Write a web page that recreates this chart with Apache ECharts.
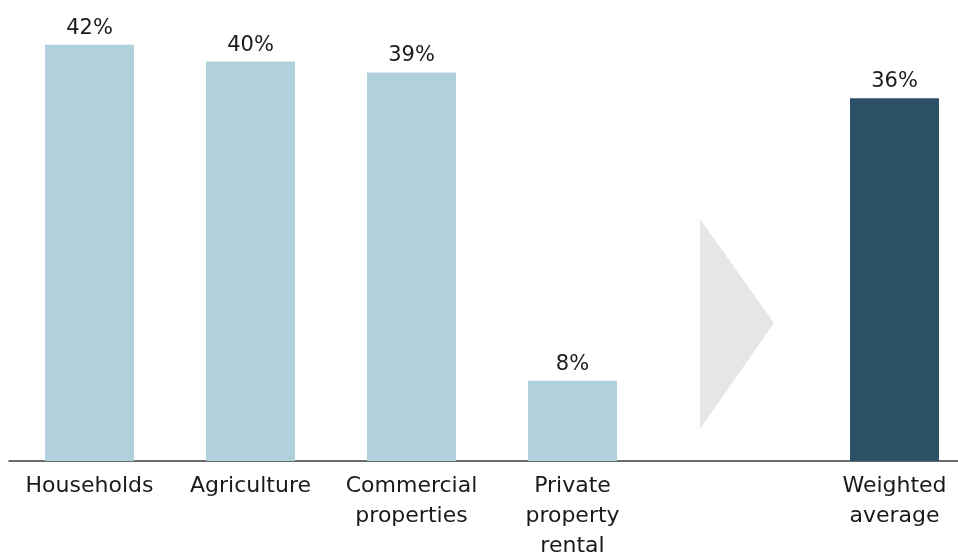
<!DOCTYPE html>
<html>
<head>
<meta charset="utf-8">
<script src="https://cdn.jsdelivr.net/npm/echarts@6/dist/echarts.min.js"></script>
<style>
  html, body { margin: 0; padding: 0; background: #fff; }
  #chart { width: 958px; height: 553px; }
</style>
</head>
<body>
<div id="chart"></div>
<script>
const categories = ['Households', 'Agriculture', 'Commercial\nproperties', 'Private\nproperty\nrental', '', 'Weighted\naverage']
const values = [42, 40.3, 39.2, 8.1, null, 36.6]
const valueLabels = ['42%', '40%', '39%', '8%', '', '36%']
const isAverage = [false, false, false, false, false, true]

const lightColor = '#b0d0db'
const darkColor = '#2c5066'
const font = 'DejaVu Sans'

const el = document.getElementById('chart')
const chart = echarts.init(el)

const option = {
    animation: false,
    grid: {
        left: 9,
        width: 966,
        top: 15,
        bottom: 92,
        containLabel: false,
        outerBoundsMode: 'none'
    },
    xAxis: {
        type: 'category',
        data: categories,
        axisLine: { lineStyle: { color: '#3a3a3a', width: 1.5 } },
        axisTick: { show: false },
        axisLabel: {
            interval: 0,
            margin: 10,
            color: '#1a1a1a',
            fontFamily: font,
            fontSize: 22,
            lineHeight: 30
        }
    },
    yAxis: {
        type: 'value',
        min: 0,
        max: 45,
        show: false,
        splitLine: { show: false }
    },
    series: [
        {
            type: 'bar',
            barWidth: 89,
            data: values.map(function (v, i) {
                return {
                    value: v,
                    itemStyle: { color: isAverage[i] ? darkColor : lightColor }
                }
            }),
            label: {
                show: true,
                position: 'top',
                distance: 6,
                color: '#1a1a1a',
                fontFamily: font,
                fontSize: 21,
                formatter: function (p) {
                    return valueLabels[p.dataIndex]
                }
            }
        }
    ],
    // grey arrow pointing to the weighted average
    graphic: [
        {
            type: 'polygon',
            shape: { points: [[700, 219], [700, 429], [774, 323]] },
            style: { fill: '#e6e6e6' },
            z: 0
        }
    ]
}

chart.setOption(option)
window.onresize = function () {
    chart.resize()
}
</script>
</body>
</html>
